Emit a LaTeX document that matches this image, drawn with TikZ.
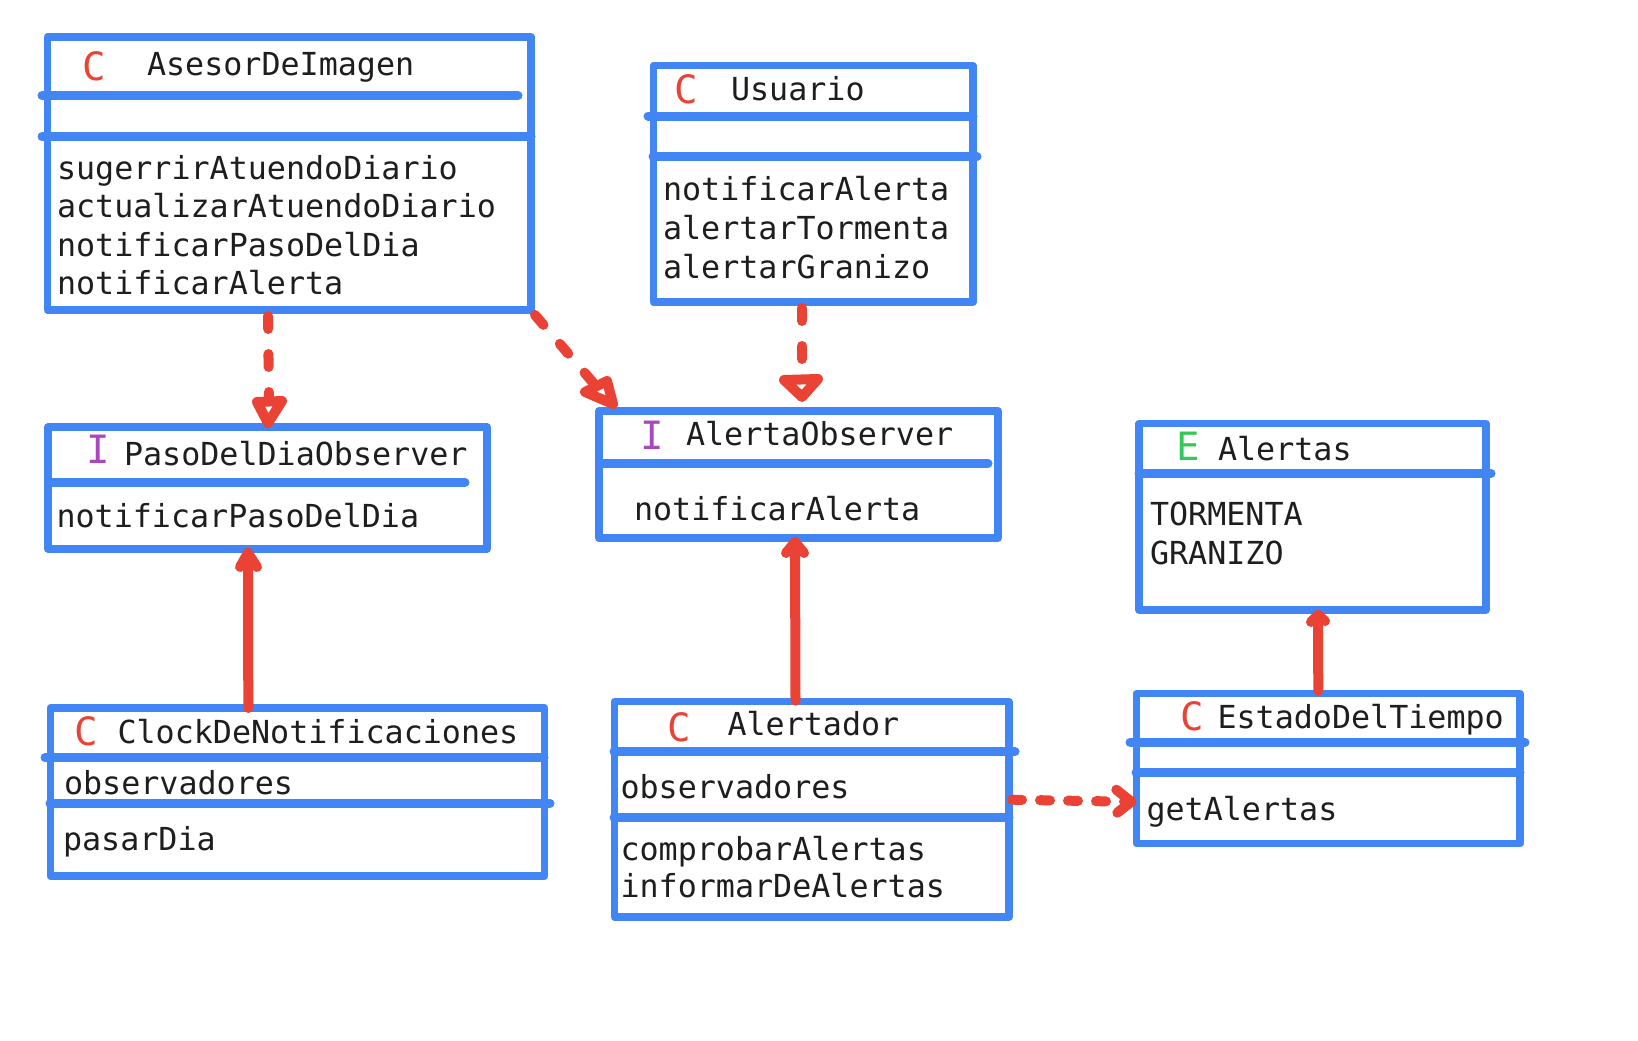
\documentclass[tikz,border=0pt]{standalone}
\usepackage{fontspec}
\newfontfamily\umlfont{DejaVu Sans Mono}
\usetikzlibrary{calc}
\definecolor{umlblue}{HTML}{4285F4}
\definecolor{umlred}{HTML}{EA4335}
\definecolor{umlpurple}{HTML}{AB47BC}
\definecolor{umlgreen}{HTML}{34C759}
\definecolor{umltext}{HTML}{1E1E1E}
\begin{document}
\begin{tikzpicture}[x=1pt,y=-1pt,
  classbox/.style={draw=umlblue, line width=7.5pt, line join=round, rectangle, inner sep=0pt, outer sep=0pt, anchor=north west},
  sepline/.style={draw=umlblue, line width=9pt, line cap=round},
  txt/.style={anchor=base west, inner sep=0pt, outer sep=0pt, text=umltext, font=\umlfont\fontsize{31.7}{38}\selectfont},
  kind/.style={anchor=base west, inner sep=0pt, outer sep=0pt, font=\umlfont\fontsize{39}{40}\selectfont},
  link/.style={draw=umlred, line width=10pt, line cap=round, line join=round},
  dashv/.style={link, dash pattern=on 13pt off 25pt},
  dashh/.style={link, dash pattern=on 10pt off 18pt},
  tri/.style={link, fill=white},
]
\useasboundingbox[fill=white] (0,0) rectangle (1638,1041);

% ---------- boxes ----------
\node[classbox, minimum width=483.5pt, minimum height=273pt] (ases) at (47.5,37) {};
\node[classbox, minimum width=319.5pt, minimum height=236.3pt] (usu) at (653.5,65.7) {};
\node[classbox, minimum width=399pt, minimum height=127pt] (alobs) at (599,411) {};
\node[classbox, minimum width=439pt, minimum height=122pt] (paso) at (48,427) {};
\node[classbox, minimum width=494.2pt, minimum height=168pt] (clock) at (50.3,708) {};
\node[classbox, minimum width=394.5pt, minimum height=215.3pt] (alertador) at (614.5,701.7) {};
\node[classbox, minimum width=347pt, minimum height=186.3pt] (alertas) at (1139,423.7) {};
\node[classbox, minimum width=383.7pt, minimum height=150pt] (estado) at (1136.3,693.7) {};

% ---------- separators ----------
\draw[sepline] (42,95.7) -- (518,95.7);
\draw[sepline] (42,136.7) -- (531,136.7);
\draw[sepline] (648,116) -- (973,116);
\draw[sepline] (653,156.7) -- (977,156.7);
\draw[sepline] (603,463) -- (988,463);
\draw[sepline] (52,482.3) -- (465,482.3);
\draw[sepline] (45,757.7) -- (544,757.7);
\draw[sepline] (50,803.3) -- (550,803.3);
\draw[sepline] (614,751.7) -- (1015,751.7);
\draw[sepline] (614,817.7) -- (1009,817.7);
\draw[sepline] (1139,473.3) -- (1491,473.3);
\draw[sepline] (1130,742.3) -- (1525,742.3);
\draw[sepline] (1136,772.7) -- (1520,772.7);

% ---------- texts ----------
% AsesorDeImagen
\node[kind, text=umlred] (asesK) at (82,81) {C};
\node[txt] (asesT) at (147,75) {AsesorDeImagen};
\node[txt] (asesM1) at (57,179) {sugerrirAtuendoDiario};
\node[txt] (asesM2) at (57,217.5) {actualizarAtuendoDiario};
\node[txt] (asesM3) at (57,256) {notificarPasoDelDia};
\node[txt] (asesM4) at (57,294) {notificarAlerta};
% Usuario
\node[kind, text=umlred] (usuK) at (674,103.3) {C};
\node[txt] (usuT) at (731,100) {Usuario};
\node[txt] (usuM1) at (663,200.7) {notificarAlerta};
\node[txt] (usuM2) at (663,239) {alertarTormenta};
\node[txt] (usuM3) at (663,278) {alertarGranizo};
% AlertaObserver
\node[kind, text=umlpurple] (alobsK) at (640,449) {I};
\node[txt] (alobsT) at (686,445) {AlertaObserver};
\node[txt] (alobsM1) at (634,520) {notificarAlerta};
% PasoDelDiaObserver
\node[kind, text=umlpurple] (pasoK) at (86,463) {I};
\node[txt] (pasoT) at (124,465) {PasoDelDiaObserver};
\node[txt] (pasoM1) at (56.5,527) {notificarPasoDelDia};
% ClockDeNotificaciones
\node[kind, text=umlred] (clockK) at (74,745) {C};
\node[txt] (clockT) at (117.5,743.3) {ClockDeNotificaciones};
\node[txt] (clockA1) at (64,794.3) {observadores};
\node[txt] (clockM1) at (63,850.7) {pasarDia};
% Alertador
\node[kind, text=umlred] (alertadorK) at (667,741) {C};
\node[txt] (alertadorT) at (727.5,735) {Alertador};
\node[txt] (alertadorA1) at (620.5,798.3) {observadores};
\node[txt] (alertadorM1) at (620.5,860) {comprobarAlertas};
\node[txt] (alertadorM2) at (620.5,897.3) {informarDeAlertas};
% Alertas
\node[kind, text=umlgreen] (alertasK) at (1176,460.7) {E};
\node[txt] (alertasT) at (1218,460.7) {Alertas};
\node[txt] (alertasV1) at (1150,525) {TORMENTA};
\node[txt] (alertasV2) at (1150,564) {GRANIZO};
% EstadoDelTiempo
\node[kind, text=umlred] (estadoK) at (1180,730) {C};
\node[txt] (estadoT) at (1217.5,728.3) {EstadoDelTiempo};
\node[txt] (estadoM1) at (1146.5,820) {getAlertas};

% ---------- connectors ----------
% AsesorDeImagen -> PasoDelDiaObserver (realization)
\draw[dashv] ($(ases.south west)+(220.5,6)$) -- ($(paso.north west)+(221,-26)$);
\draw[tri] ($(paso.north west)+(220,-4)$) -- ++(-11,-21) -- ++(25,-1) -- cycle;

% AsesorDeImagen -> AlertaObserver (realization)
\draw[dashv] ($(ases.south east)+(4,5)$) -- ($(alobs.north west)+(-3,-25)$);
\draw[tri] ($(alobs.north west)+(14,-7)$) -- ++(-28,-12) -- ++(22,-11) -- cycle;

% Usuario -> AlertaObserver (realization)
\draw[dashv] ($(usu.south west)+(148.5,6)$) -- ($(alobs.north west)+(203,-33)$);
\draw[tri] ($(alobs.north west)+(203,-14)$) -- ++(-18,-17) -- ++(34,-1) -- cycle;

% ClockDeNotificaciones -> PasoDelDiaObserver
\draw[link] ($(clock.north west)+(198,0)$) -- ($(paso.south west)+(200,4)$);
\draw[link] ($(paso.south west)+(192,18)$) -- ($(paso.south west)+(200,4)$) -- ($(paso.south west)+(209,18)$);

% Alertador -> AlertaObserver
\draw[link] ($(alertador.north west)+(181,-1)$) -- ($(alobs.south west)+(196,4)$);
\draw[link] ($(alobs.south west)+(187,15)$) -- ($(alobs.south west)+(196,4)$) -- ($(alobs.south west)+(205,15)$);

% EstadoDelTiempo -> Alertas
\draw[link] ($(estado.north west)+(182,-3)$) -- ($(alertas.south west)+(179,5)$);
\draw[link] ($(alertas.south west)+(172,12)$) -- ($(alertas.south west)+(179,5)$) -- ($(alertas.south west)+(186,11)$);

% Alertador -> EstadoDelTiempo (dependency)
\draw[dashh] ($(alertador.north east)+(3,98)$) -- ($(estado.north west)+(-10,108)$);
\draw[link] ($(estado.north west)+(-20,96)$) -- ($(estado.north west)+(-5,108)$) -- ($(estado.north west)+(-19,119)$);
\end{tikzpicture}
\end{document}
